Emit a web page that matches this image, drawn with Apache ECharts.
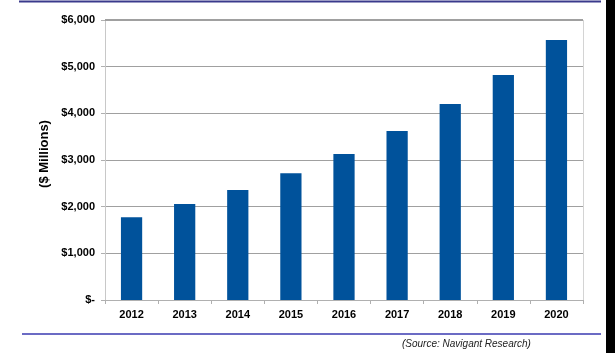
<!DOCTYPE html>
<html>
<head>
<meta charset="utf-8">
<script src="https://cdn.jsdelivr.net/npm/echarts@6/dist/echarts.min.js"></script>
<style>
  html, body { margin: 0; padding: 0; background: #fff; }
  #chart { width: 615px; height: 353px; }
</style>
</head>
<body>
<div id="chart"></div>
<script>
// years and market values ($ millions)
const years = ["2012", "2013", "2014", "2015", "2016", "2017", "2018", "2019", "2020"];
const revenue = [1772, 2057, 2357, 2714, 3128, 3621, 4200, 4821, 5571];
const yTicks = [0, 1000, 2000, 3000, 4000, 5000, 6000];

const chart = echarts.init(document.getElementById("chart"));

const fmt = (v) => (v === 0 ? "$-" : "$" + v.toLocaleString("en-US"));

const option = {
  animation: false,
  grid: { left: 105, right: 32, top: 20, bottom: 53 },
  xAxis: {
    type: "category",
    data: years,
    axisLine: { show: true, lineStyle: { color: "#b0b0b0" } },
    axisTick: { show: true, alignWithLabel: false, length: 4, lineStyle: { color: "#b0b0b0" } },
    axisLabel: {
      color: "#000",
      fontFamily: "Liberation Sans",
      fontWeight: "bold",
      fontSize: 11,
      margin: 9
    }
  },
  yAxis: {
    type: "value",
    min: yTicks[0],
    max: yTicks[yTicks.length - 1],
    interval: 1000,
    name: "($ Millions)",
    nameLocation: "middle",
    nameGap: 54,
    nameTextStyle: {
      color: "#000",
      fontFamily: "Liberation Sans",
      fontWeight: "bold",
      fontSize: 13,
      padding: [0, 0, 0, 12]
    },
    axisLine: { show: true, lineStyle: { color: "#c8c8c8" } },
    axisTick: { show: true, length: 4, lineStyle: { color: "#b0b0b0" } },
    axisLabel: {
      color: "#000",
      fontFamily: "Liberation Sans",
      fontWeight: "bold",
      fontSize: 11,
      margin: 10,
      formatter: fmt
    },
    splitLine: { show: true, lineStyle: { color: "#a0a0a0", width: 1 } }
  },
  series: [
    {
      type: "bar",
      data: revenue,
      barWidth: "40%",
      itemStyle: { color: "#00529b" }
    }
  ],
  graphic: [
    // plot frame: heavier top, light right edge
    { type: "line", shape: { x1: 105, y1: 20, x2: 583, y2: 20 }, style: { stroke: "#a0a0a0", lineWidth: 2 }, z: 10 },
    { type: "line", shape: { x1: 583.5, y1: 20, x2: 583.5, y2: 300 }, style: { stroke: "#d4d4d4", lineWidth: 1 }, z: 10 },
    // page rules
    { type: "line", shape: { x1: 19, y1: 1.5, x2: 601, y2: 1.5 }, style: { stroke: "#3a3a8c", lineWidth: 2 } },
    { type: "line", shape: { x1: 22, y1: 334, x2: 601, y2: 334 }, style: { stroke: "#3a3ab0", lineWidth: 1.5 } },
    // right black strip
    { type: "rect", shape: { x: 606, y: 0, width: 9, height: 353 }, style: { fill: "#000" } },
    {
      type: "text",
      left: 402,
      top: 339,
      style: {
        text: "(Source: Navigant Research)",
        fill: "#222",
        font: "italic 10px 'Liberation Sans'"
      }
    }
  ]
};

chart.setOption(option);
</script>
</body>
</html>
